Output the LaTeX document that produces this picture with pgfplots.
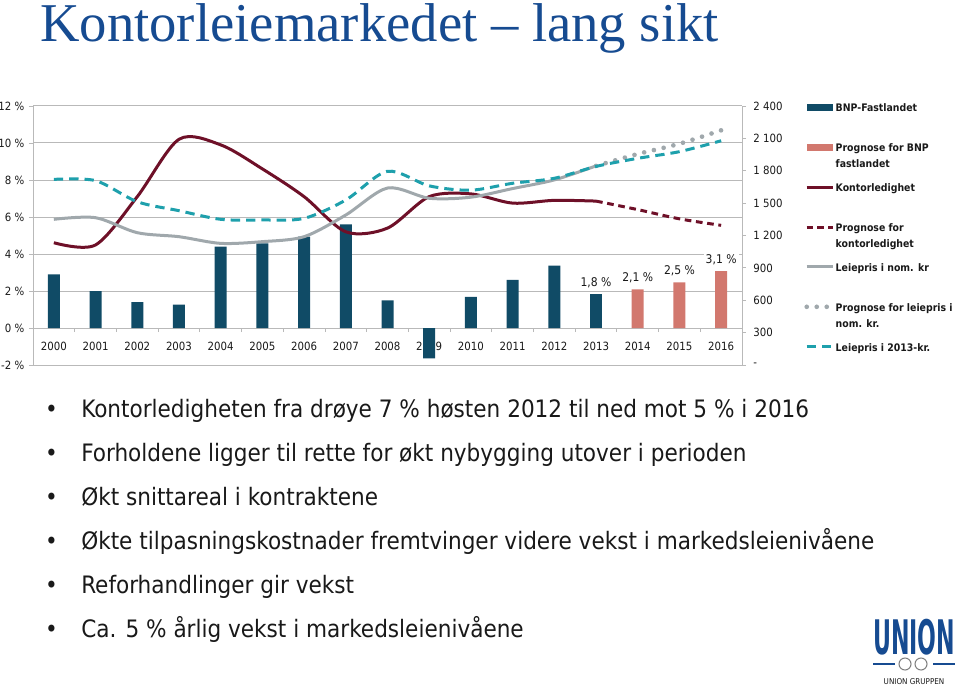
\documentclass[border=0pt]{standalone}
\usepackage{pgfplots}
\pgfplotsset{compat=1.18}
\usepackage{fontspec}
\setmainfont{DejaVu Sans Condensed}
\newfontfamily\titlefont{Liberation Serif}

\definecolor{bnp}{RGB}{16,75,102}
\definecolor{prog}{RGB}{210,120,110}
\definecolor{ledig}{RGB}{110,16,40}
\definecolor{leie}{RGB}{160,168,172}
\definecolor{leiereal}{RGB}{30,160,172}
\definecolor{gridc}{RGB}{185,185,185}
\definecolor{titleblue}{RGB}{22,75,145}
\definecolor{txt}{RGB}{25,25,25}

\tikzset{barlabel/.style={font=\fontsize{9}{10}\selectfont, text=txt, fill=white, inner sep=1.5pt, yshift=3pt}}

% 1 px of the reference = 0.75pt; picture is 960 x 687 px
\pgfplotsset{
  common/.style={
    at={(24.75pt,241.5pt)}, anchor=south west, scale only axis,
    width=531.75pt, height=194.25pt,
    xmin=-0.5, xmax=16.5,
    tick label style={font=\fontsize{8.5}{10}\selectfont, text=txt},
    axis line style={gridc},
    tick style={gridc, line width=0.6pt},
    tick align=outside, major tick length=3pt, minor tick length=3pt,
  },
  % legend entries are two lines high, the swatch sits at the first line
  barimg/.style={legend image code/.code={\fill[##1, draw=none] (0pt,12.8pt) rectangle (20pt,18pt);}},
  lineimg/.style={legend image code/.code={\draw[##1] (0pt,15.4pt) -- (20pt,15.4pt);}},
}

\begin{document}
\begin{tikzpicture}
\useasboundingbox (0pt,0pt) rectangle (720pt,515.25pt);

% left axis: BNP bars and vacancy
\begin{axis}[common,
  ymin=-2, ymax=12,
  axis y line*=left, axis x line*=middle,
  every inner x axis line/.append style={-},
  hide obscured x ticks=false, hide obscured y ticks=false,
  ymajorgrids, grid style={gridc, line width=0.75pt},
  ytick={-2,0,...,12},
  yticklabels={-2 \%,0 \%,2 \%,4 \%,6 \%,8 \%,10 \%,12 \%},
  xtick={0,...,16},
  xticklabels={2000,2001,2002,2003,2004,2005,2006,2007,2008,2009,2010,2011,2012,2013,2014,2015,2016},
  major x tick style={draw=none},
  minor xtick={-0.5,0.5,...,16.5},
  xticklabel style={fill=white, inner sep=1pt, anchor=center, yshift=-11pt},
]
\addplot[ybar, bar width=9pt, fill=bnp, draw=none] coordinates {
  (0,2.9) (1,2.0) (2,1.4) (3,1.26) (4,4.4) (5,4.58) (6,4.94) (7,5.6)
  (8,1.5) (9,-1.64) (10,1.68) (11,2.6) (12,3.37)};
\addplot[ybar, bar width=9pt, fill=bnp, draw=none,
  point meta=explicit symbolic, nodes near coords,
  every node near coord/.append style={barlabel}]
  coordinates {(13,1.82) [1,8 \%]};
\addplot[ybar, bar width=9pt, fill=prog, draw=none,
  point meta=explicit symbolic, nodes near coords,
  every node near coord/.append style={barlabel}]
  coordinates {(14,2.09) [2,1 \%] (15,2.47) [2,5 \%] (16,3.08) [3,1 \%]};
\addplot[ledig, line width=2.25pt, smooth] coordinates {
  (0,4.61) (1,4.49) (2,7.1) (3,10.2) (4,9.9) (5,8.6) (6,7.1) (7,5.2)
  (8,5.4) (9,7.1) (10,7.25) (11,6.75) (12,6.9) (13,6.86)};
\addplot[ledig, line width=2.25pt, smooth, dash pattern=on 5pt off 3.5pt] coordinates {
  (13,6.86) (14,6.4) (15,5.9) (16,5.55)};
\end{axis}

% right axis: rents in kr
\begin{axis}[common,
  ymin=0, ymax=2400,
  axis y line*=right, axis x line=none,
  ytick={0,300,...,2400},
  yticklabels={-,300,600,900,1 200,1 500,1 800,2 100,2 400},
  yticklabel style={anchor=west, xshift=2pt},
  legend cell align=left,
  legend style={at={(1.082,1.02)}, anchor=north west, draw=none, fill=none,
    font=\bfseries\fontsize{7.8}{12}\selectfont, text=txt, row sep=10.5pt,
    nodes={align=left, inner sep=0pt, anchor=base west}},
]
\addlegendimage{barimg, fill=bnp}
\addlegendimage{barimg, fill=prog}
\addlegendimage{lineimg, ledig, line width=2.25pt}
\addlegendimage{lineimg, ledig, line width=2.25pt, dash pattern=on 5pt off 3pt}
\addplot[leie, line width=2.25pt, smooth, lineimg] coordinates {
  (0,1350) (1,1365) (2,1226) (3,1189) (4,1127) (5,1143) (6,1189) (7,1390)
  (8,1640) (9,1545) (10,1555) (11,1635) (12,1715) (13,1845)};
\addplot[leie, line width=3.5pt, line cap=round, dash pattern=on 0pt off 7.5pt, smooth, lineimg] coordinates {
  (13,1845) (14,1955) (15,2050) (16,2175)};
\addplot[leiereal, line width=2.25pt, smooth, dash pattern=on 7pt off 4.5pt, lineimg] coordinates {
  (0,1720) (1,1708) (2,1513) (3,1430) (4,1350) (5,1344) (6,1359) (7,1529)
  (8,1795) (9,1660) (10,1620) (11,1684) (12,1730) (13,1840) (14,1915) (15,1977) (16,2078)};
\legend{{BNP-Fastlandet\\\strut},{Prognose for BNP\\fastlandet},{Kontorledighet\\\strut},
  {Prognose for\\kontorledighet},{Leiepris i nom. kr\\\strut},{Prognose for leiepris i\\nom. kr.},
  {Leiepris i 2013-kr.\\\strut}}
\end{axis}

\begin{scope}[x=0.75pt,y=0.75pt]
\node[anchor=base west, inner sep=0pt, text=titleblue,
      font=\titlefont\fontsize{41}{44}\selectfont] at (40,645) {Kontorleiemarkedet – lang sikt};

% bullet list
\begin{scope}[every node/.style={inner sep=0pt, text=txt, font=\fontsize{18}{21}\selectfont}]
\foreach \yy/\tt in {270/{Kontorledigheten fra drøye 7 \% høsten 2012 til ned mot 5 \% i 2016},
                     226/{Forholdene ligger til rette for økt nybygging utover i perioden},
                     182/{Økt snittareal i kontraktene},
                     138/{Økte tilpasningskostnader fremtvinger videre vekst i markedsleienivåene},
                     94/{Reforhandlinger gir vekst},
                     50/{Ca. 5 \% årlig vekst i markedsleienivåene}}{
  \node[anchor=base] at (51.5,\yy) {\textbullet};
  \node[anchor=base west] at (81,\yy) {\tt};
}
\end{scope}

% logo
\node[anchor=south west, inner sep=0pt, text=titleblue] at (873,32)
  {\resizebox{61.5pt}{26.5pt}{\bfseries UNION}};
\draw[titleblue, line width=1pt] (873,23) -- (895,23) (933,23) -- (955,23);
\draw[gray, line width=0.8pt] (905,23) circle (6) (921,23) circle (6);
\node[anchor=base, inner sep=0pt, text=txt, font=\fontsize{6}{7}\selectfont] at (914,3) {UNION GRUPPEN};
\end{scope}
\end{tikzpicture}
\end{document}
